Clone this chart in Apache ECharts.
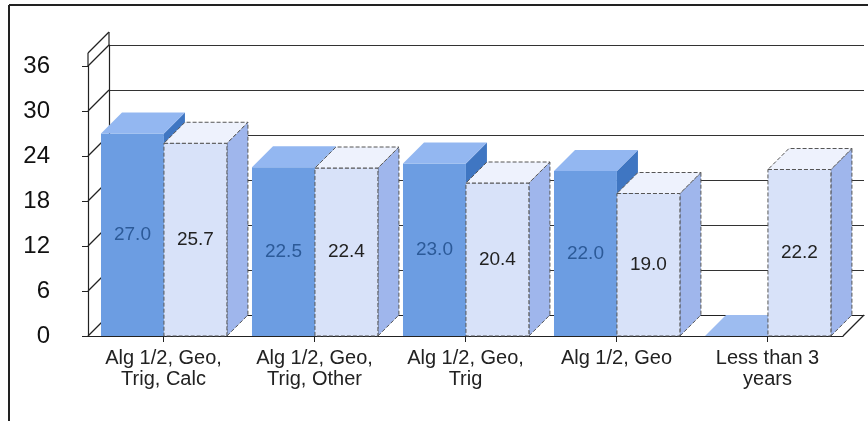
<!DOCTYPE html>
<html>
<head>
<meta charset="utf-8">
<script src="https://cdn.jsdelivr.net/npm/echarts@6/dist/echarts.min.js"></script>
<style>
  html, body { margin: 0; padding: 0; background: #fff; }
  #chart { width: 868px; height: 421px; }
</style>
</head>
<body>
<div id="chart"></div>
<script>
// categories and values
const categories = ['Alg 1/2, Geo,\nTrig, Calc', 'Alg 1/2, Geo,\nTrig, Other', 'Alg 1/2, Geo,\nTrig', 'Alg 1/2, Geo', 'Less than 3\nyears'];
const darkValues = [27.0, 22.5, 23.0, 22.0, 0];
const lightValues = [25.7, 22.4, 20.4, 19.0, 22.2];
const yTicks = [0, 6, 12, 18, 24, 30, 36];

// depth of the fake 3d (px, up and right)
const DEPTH = 21;
const FONT = 'Liberation Sans, Arial, sans-serif';

const darkColors = { front: '#6c9de2', top: '#93b7f1', side: '#3f76c2', stroke: null, label: '#2c5a98' };
const lightColors = { front: '#d8e2f9', top: '#eef2fd', side: '#9fb6ec', stroke: '#555', label: '#222' };

// 3d bar drawn from the axis scale
function bar3d(slot, colors) {
  return function (params, api) {
    const cat = api.value(0);
    const val = api.value(1);
    const base = api.coord([cat, 0]);
    const top = api.coord([cat, val]);
    const band = api.size([1, 0])[0];
    const w = band * 0.417;
    const x0 = base[0] - band / 2 + band * 0.086 + slot * w;
    const x1 = x0 + w;
    const y0 = base[1];
    const y1 = top[1];
    const d = DEPTH;
    const edge = colors.stroke
      ? { stroke: colors.stroke, lineWidth: 1, lineDash: [4, 2] }
      : { stroke: null };
    const children = [];
    if (val > 0) {
      children.push({
        type: 'polygon',
        shape: { points: [[x1, y0], [x1 + d, y0 - d], [x1 + d, y1 - d], [x1, y1]] },
        style: Object.assign({ fill: colors.side }, edge)
      });
      children.push({
        type: 'rect',
        shape: { x: x0, y: y1, width: w, height: y0 - y1 },
        style: Object.assign({ fill: colors.front }, edge)
      });
    }
    children.push({
      type: 'polygon',
      shape: { points: [[x0, y1], [x1, y1], [x1 + d, y1 - d], [x0 + d, y1 - d]] },
      style: Object.assign({ fill: val > 0 ? colors.top : '#9dbcf0' }, val > 0 ? edge : { stroke: null })
    });
    if (val > 0) {
      children.push({
        type: 'text',
        style: {
          x: x0 + w / 2,
          y: (y0 + y1) / 2,
          text: val.toFixed(1),
          fill: colors.label,
          font: '19px ' + FONT,
          align: 'center',
          verticalAlign: 'middle'
        }
      });
    }
    return { type: 'group', children: children };
  };
}

// left wall diagonals + floor right edge
function wallLines(params, api) {
  const v = api.value(1);
  const cs = params.coordSys;
  const y = api.coord([0, v])[1];
  const d = DEPTH;
  const ls = { stroke: '#222', lineWidth: 1.2 };
  const children = [{
    type: 'line',
    shape: { x1: cs.x, y1: y, x2: cs.x + d, y2: y - d },
    style: ls
  }];
  if (v === 0) {
    children.push({
      type: 'line',
      shape: { x1: cs.x + cs.width, y1: y, x2: cs.x + cs.width + d, y2: y - d },
      style: ls
    });
  }
  if (v === yTicks[yTicks.length - 1]) {
    const ext = 13;
    children.push({ type: 'line', shape: { x1: cs.x, y1: y, x2: cs.x, y2: y - ext }, style: ls });
    children.push({ type: 'line', shape: { x1: cs.x + d, y1: y - d, x2: cs.x + d, y2: y - d - ext }, style: ls });
    children.push({ type: 'line', shape: { x1: cs.x, y1: y - ext, x2: cs.x + d, y2: y - d - ext }, style: ls });
  }
  return { type: 'group', children: children };
}

const chart = echarts.init(document.getElementById('chart'), null, { renderer: 'canvas' });

chart.setOption({
  animation: false,
  backgroundColor: '#fff',
  grid: [
    // front plane
    { left: 88, right: 25, top: 66, bottom: 85 },
    // back wall
    { left: 88 + DEPTH, right: 25 - DEPTH, top: 66 - DEPTH, bottom: 85 + DEPTH }
  ],
  xAxis: [
    {
      type: 'category',
      gridIndex: 0,
      data: categories,
      axisLine: { show: true, lineStyle: { color: '#222', width: 1.2 } },
      axisTick: { show: true, alignWithLabel: true, length: 6, lineStyle: { color: '#222' } },
      axisLabel: { color: '#222', fontSize: 20, fontFamily: FONT, lineHeight: 21, margin: 12, interval: 0 },
      splitLine: { show: false }
    },
    {
      type: 'category',
      gridIndex: 1,
      data: categories,
      axisLine: { show: true, lineStyle: { color: '#222', width: 1.2 } },
      axisTick: { show: false },
      axisLabel: { show: false },
      splitLine: { show: false }
    }
  ],
  yAxis: [
    {
      type: 'value',
      gridIndex: 0,
      min: 0,
      max: 36,
      interval: 6,
      axisLine: { show: true, lineStyle: { color: '#222', width: 1.2 } },
      axisTick: { show: true, length: 6, lineStyle: { color: '#222' } },
      axisLabel: { color: '#111', fontSize: 24, fontFamily: FONT, margin: 38, align: 'right' },
      splitLine: { show: false }
    },
    {
      type: 'value',
      gridIndex: 1,
      min: 0,
      max: 36,
      interval: 6,
      axisLine: { show: true, lineStyle: { color: '#222', width: 1.2 } },
      axisTick: { show: false },
      axisLabel: { show: false },
      splitLine: { show: true, lineStyle: { color: '#333', width: 1.2 } }
    }
  ],
  graphic: [
    { type: 'line', shape: { x1: 9, y1: 5, x2: 9, y2: 421 }, style: { stroke: '#222', lineWidth: 2 } },
    { type: 'line', shape: { x1: 9, y1: 5, x2: 868, y2: 5 }, style: { stroke: '#222', lineWidth: 2 } }
  ],
  series: [
    {
      type: 'custom',
      name: 'wall',
      xAxisIndex: 0,
      yAxisIndex: 0,
      renderItem: wallLines,
      data: yTicks.map(v => [0, v]),
      encode: { x: 0, y: 1 },
      clip: false,
      silent: true,
      z: 1
    },
    {
      type: 'custom',
      name: 'dark',
      xAxisIndex: 0,
      yAxisIndex: 0,
      renderItem: bar3d(0, darkColors),
      data: darkValues.map((v, i) => [i, v]),
      encode: { x: 0, y: 1 },
      clip: false,
      z: 3
    },
    {
      type: 'custom',
      name: 'light',
      xAxisIndex: 0,
      yAxisIndex: 0,
      renderItem: bar3d(1, lightColors),
      data: lightValues.map((v, i) => [i, v]),
      encode: { x: 0, y: 1 },
      clip: false,
      z: 4
    }
  ]
});
</script>
</body>
</html>
